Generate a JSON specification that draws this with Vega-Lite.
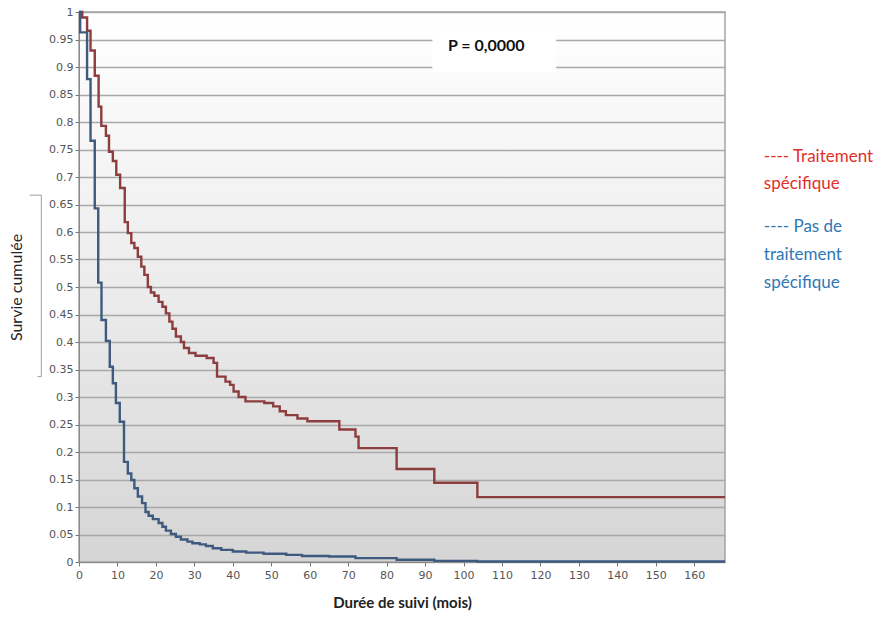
{
  "$schema": "https://vega.github.io/schema/vega-lite/v6.json",
  "width": 646,
  "height": 550,
  "autosize": {"type": "none"},
  "padding": {"left": 79, "top": 12, "right": 157, "bottom": 57},
  "background": "white",
  "config": {
    "view": {
      "stroke": "#a4a4a4",
      "strokeWidth": 1.5,
      "fill": {"gradient": "linear", "x1": 0, "y1": 0, "x2": 0, "y2": 1,
        "stops": [{"offset": 0, "color": "#ffffff"}, {"offset": 0.5, "color": "#ececec"}, {"offset": 1, "color": "#d5d5d5"}]}
    },
    "font": "DejaVu Sans",
    "axisX": {"tickCount": 16, "grid": false},
    "axisY": {"tickCount": 20, "grid": true, "gridColor": "#a9a9a9", "gridWidth": 1.5}
  },
  "datasets": {
    "km": [
      {"temps": 0, "survie": 1, "groupe": "Traitement spécifique"},
      {"temps": 0.85, "survie": 0.99, "groupe": "Traitement spécifique"},
      {"temps": 2.1, "survie": 0.966, "groupe": "Traitement spécifique"},
      {"temps": 3.0, "survie": 0.93, "groupe": "Traitement spécifique"},
      {"temps": 4.1, "survie": 0.884, "groupe": "Traitement spécifique"},
      {"temps": 5.1, "survie": 0.828, "groupe": "Traitement spécifique"},
      {"temps": 5.8, "survie": 0.793, "groupe": "Traitement spécifique"},
      {"temps": 7.0, "survie": 0.775, "groupe": "Traitement spécifique"},
      {"temps": 7.8, "survie": 0.746, "groupe": "Traitement spécifique"},
      {"temps": 8.8, "survie": 0.729, "groupe": "Traitement spécifique"},
      {"temps": 9.7, "survie": 0.704, "groupe": "Traitement spécifique"},
      {"temps": 10.7, "survie": 0.68, "groupe": "Traitement spécifique"},
      {"temps": 11.9, "survie": 0.618, "groupe": "Traitement spécifique"},
      {"temps": 12.7, "survie": 0.598, "groupe": "Traitement spécifique"},
      {"temps": 13.6, "survie": 0.58, "groupe": "Traitement spécifique"},
      {"temps": 14.4, "survie": 0.571, "groupe": "Traitement spécifique"},
      {"temps": 15.3, "survie": 0.555, "groupe": "Traitement spécifique"},
      {"temps": 16.2, "survie": 0.537, "groupe": "Traitement spécifique"},
      {"temps": 17.0, "survie": 0.522, "groupe": "Traitement spécifique"},
      {"temps": 17.9, "survie": 0.5, "groupe": "Traitement spécifique"},
      {"temps": 18.7, "survie": 0.49, "groupe": "Traitement spécifique"},
      {"temps": 19.6, "survie": 0.484, "groupe": "Traitement spécifique"},
      {"temps": 20.7, "survie": 0.473, "groupe": "Traitement spécifique"},
      {"temps": 21.7, "survie": 0.464, "groupe": "Traitement spécifique"},
      {"temps": 22.6, "survie": 0.452, "groupe": "Traitement spécifique"},
      {"temps": 23.5, "survie": 0.437, "groupe": "Traitement spécifique"},
      {"temps": 24.3, "survie": 0.424, "groupe": "Traitement spécifique"},
      {"temps": 25.2, "survie": 0.41, "groupe": "Traitement spécifique"},
      {"temps": 26.5, "survie": 0.4, "groupe": "Traitement spécifique"},
      {"temps": 27.3, "survie": 0.389, "groupe": "Traitement spécifique"},
      {"temps": 28.6, "survie": 0.38, "groupe": "Traitement spécifique"},
      {"temps": 30.3, "survie": 0.375, "groupe": "Traitement spécifique"},
      {"temps": 33.2, "survie": 0.371, "groupe": "Traitement spécifique"},
      {"temps": 35.0, "survie": 0.362, "groupe": "Traitement spécifique"},
      {"temps": 35.9, "survie": 0.337, "groupe": "Traitement spécifique"},
      {"temps": 38.1, "survie": 0.328, "groupe": "Traitement spécifique"},
      {"temps": 39.3, "survie": 0.322, "groupe": "Traitement spécifique"},
      {"temps": 40.2, "survie": 0.31, "groupe": "Traitement spécifique"},
      {"temps": 41.5, "survie": 0.3, "groupe": "Traitement spécifique"},
      {"temps": 43.3, "survie": 0.292, "groupe": "Traitement spécifique"},
      {"temps": 48.2, "survie": 0.289, "groupe": "Traitement spécifique"},
      {"temps": 50.5, "survie": 0.283, "groupe": "Traitement spécifique"},
      {"temps": 52.2, "survie": 0.274, "groupe": "Traitement spécifique"},
      {"temps": 53.8, "survie": 0.267, "groupe": "Traitement spécifique"},
      {"temps": 56.8, "survie": 0.261, "groupe": "Traitement spécifique"},
      {"temps": 59.4, "survie": 0.256, "groupe": "Traitement spécifique"},
      {"temps": 67.7, "survie": 0.241, "groupe": "Traitement spécifique"},
      {"temps": 71.9, "survie": 0.228, "groupe": "Traitement spécifique"},
      {"temps": 72.7, "survie": 0.207, "groupe": "Traitement spécifique"},
      {"temps": 82.6, "survie": 0.169, "groupe": "Traitement spécifique"},
      {"temps": 92.4, "survie": 0.144, "groupe": "Traitement spécifique"},
      {"temps": 103.6, "survie": 0.118, "groupe": "Traitement spécifique"},
      {"temps": 168, "survie": 0.118, "groupe": "Traitement spécifique"},
      {"temps": 0, "survie": 1, "groupe": "Pas de traitement spécifique"},
      {"temps": 0.3, "survie": 0.963, "groupe": "Pas de traitement spécifique"},
      {"temps": 2.1, "survie": 0.878, "groupe": "Pas de traitement spécifique"},
      {"temps": 3.0, "survie": 0.766, "groupe": "Pas de traitement spécifique"},
      {"temps": 4.1, "survie": 0.643, "groupe": "Pas de traitement spécifique"},
      {"temps": 5.0, "survie": 0.508, "groupe": "Pas de traitement spécifique"},
      {"temps": 5.85, "survie": 0.44, "groupe": "Pas de traitement spécifique"},
      {"temps": 7.0, "survie": 0.402, "groupe": "Pas de traitement spécifique"},
      {"temps": 8.0, "survie": 0.355, "groupe": "Pas de traitement spécifique"},
      {"temps": 8.8, "survie": 0.325, "groupe": "Pas de traitement spécifique"},
      {"temps": 9.6, "survie": 0.289, "groupe": "Pas de traitement spécifique"},
      {"temps": 10.6, "survie": 0.255, "groupe": "Pas de traitement spécifique"},
      {"temps": 11.7, "survie": 0.182, "groupe": "Pas de traitement spécifique"},
      {"temps": 12.7, "survie": 0.161, "groupe": "Pas de traitement spécifique"},
      {"temps": 13.6, "survie": 0.149, "groupe": "Pas de traitement spécifique"},
      {"temps": 14.4, "survie": 0.134, "groupe": "Pas de traitement spécifique"},
      {"temps": 15.3, "survie": 0.119, "groupe": "Pas de traitement spécifique"},
      {"temps": 16.4, "survie": 0.107, "groupe": "Pas de traitement spécifique"},
      {"temps": 17.3, "survie": 0.091, "groupe": "Pas de traitement spécifique"},
      {"temps": 18.1, "survie": 0.084, "groupe": "Pas de traitement spécifique"},
      {"temps": 19.2, "survie": 0.078, "groupe": "Pas de traitement spécifique"},
      {"temps": 20.7, "survie": 0.071, "groupe": "Pas de traitement spécifique"},
      {"temps": 21.7, "survie": 0.064, "groupe": "Pas de traitement spécifique"},
      {"temps": 22.6, "survie": 0.057, "groupe": "Pas de traitement spécifique"},
      {"temps": 23.9, "survie": 0.051, "groupe": "Pas de traitement spécifique"},
      {"temps": 25.2, "survie": 0.046, "groupe": "Pas de traitement spécifique"},
      {"temps": 26.5, "survie": 0.041, "groupe": "Pas de traitement spécifique"},
      {"temps": 28.2, "survie": 0.037, "groupe": "Pas de traitement spécifique"},
      {"temps": 29.5, "survie": 0.034, "groupe": "Pas de traitement spécifique"},
      {"temps": 31.4, "survie": 0.032, "groupe": "Pas de traitement spécifique"},
      {"temps": 33.0, "survie": 0.029, "groupe": "Pas de traitement spécifique"},
      {"temps": 34.8, "survie": 0.025, "groupe": "Pas de traitement spécifique"},
      {"temps": 37.0, "survie": 0.022, "groupe": "Pas de traitement spécifique"},
      {"temps": 40.0, "survie": 0.019, "groupe": "Pas de traitement spécifique"},
      {"temps": 43.5, "survie": 0.017, "groupe": "Pas de traitement spécifique"},
      {"temps": 48.0, "survie": 0.015, "groupe": "Pas de traitement spécifique"},
      {"temps": 53.9, "survie": 0.013, "groupe": "Pas de traitement spécifique"},
      {"temps": 58.0, "survie": 0.011, "groupe": "Pas de traitement spécifique"},
      {"temps": 65.0, "survie": 0.01, "groupe": "Pas de traitement spécifique"},
      {"temps": 71.9, "survie": 0.007, "groupe": "Pas de traitement spécifique"},
      {"temps": 82.6, "survie": 0.004, "groupe": "Pas de traitement spécifique"},
      {"temps": 92.4, "survie": 0.002, "groupe": "Pas de traitement spécifique"},
      {"temps": 103.6, "survie": 0.001, "groupe": "Pas de traitement spécifique"},
      {"temps": 168, "survie": 0.001, "groupe": "Pas de traitement spécifique"}
    ]
  },
  "layer": [
    {
      "data": {"name": "km"},
      "mark": {"type": "line", "interpolate": "step-after", "strokeWidth": 2.4},
      "encoding": {
        "x": {
          "field": "temps", "type": "quantitative",
          "scale": {"domain": [0, 168], "nice": false, "zero": false},
          "axis": {
            "grid": false,
            "title": "Durée de suivi (mois)",
            "titleFont": "Lato", "titleFontSize": 15, "titleFontWeight": "bold", "titleColor": "#222222",
            "titlePadding": 15,
            "labelFont": "DejaVu Sans", "labelFontSize": 11, "labelColor": "#555555",
            "labelPadding": 3,
            "tickColor": "#777777", "tickSize": 4, "domainColor": "#8a8a8a", "labelFlush": false, "labelOverlap": false
          }
        },
        "y": {
          "field": "survie", "type": "quantitative",
          "scale": {"domain": [0, 1], "nice": false},
          "axis": {
            "format": ".2~f",
            "title": "Survie cumulée",
            "titleFont": "Lato", "titleFontSize": 16, "titleFontWeight": "normal", "titleColor": "#222222",
            "titlePadding": 24,
            "labelFont": "DejaVu Sans", "labelFontSize": 11, "labelColor": "#555555",
            "labelPadding": 2,
            "tickColor": "#777777", "tickSize": 4, "domainColor": "#8a8a8a", "labelOverlap": false, "labelFlush": false
          }
        },
        "color": {
          "field": "groupe", "type": "nominal",
          "scale": {"domain": ["Traitement spécifique", "Pas de traitement spécifique"], "range": ["#8c3d3d", "#3e5a7e"]},
          "legend": null
        }
      }
    },
    {
      "data": {"values": [{}]},
      "mark": {"type": "rect", "color": "white"},
      "encoding": {
        "x": {"datum": 91.9, "type": "quantitative"},
        "x2": {"datum": 124.1},
        "y": {"datum": 0.971, "type": "quantitative"},
        "y2": {"datum": 0.891}
      }
    },
    {
      "data": {"values": [{}]},
      "mark": {"type": "text", "font": "Lato", "fontSize": 16, "fontWeight": "bold", "color": "#111111", "align": "center", "baseline": "middle"},
      "encoding": {
        "x": {"datum": 105.9, "type": "quantitative"},
        "y": {"datum": 0.938, "type": "quantitative"},
        "text": {"value": "P = 0,0000"}
      }
    },
    {
      "data": {"values": [{}]},
      "mark": {"type": "text", "font": "Lato", "fontSize": 17, "color": "#e0302a", "align": "left", "baseline": "middle", "lineBreak": "\n", "lineHeight": 27},
      "encoding": {
        "x": {"datum": 178.1, "type": "quantitative"},
        "y": {"datum": 0.7364, "type": "quantitative"},
        "text": {"value": "---- Traitement\nspécifique"}
      }
    },
    {
      "data": {"values": [{}]},
      "mark": {"type": "text", "font": "Lato", "fontSize": 17, "color": "#2f77b5", "align": "left", "baseline": "middle", "lineBreak": "\n", "lineHeight": 28},
      "encoding": {
        "x": {"datum": 178.1, "type": "quantitative"},
        "y": {"datum": 0.609, "type": "quantitative"},
        "text": {"value": "---- Pas de\ntraitement\nspécifique"}
      }
    },
    {
      "data": {"values": [{}]},
      "mark": {"type": "rule", "color": "#9aa0a8", "strokeWidth": 1},
      "encoding": {
        "x": {"datum": -9.8, "type": "quantitative"},
        "y": {"datum": 0.667, "type": "quantitative"},
        "y2": {"datum": 0.337}
      }
    },
    {
      "data": {"values": [{}]},
      "mark": {"type": "rule", "color": "#9aa0a8", "strokeWidth": 1},
      "encoding": {
        "x": {"datum": -12.8, "type": "quantitative"},
        "x2": {"datum": -9.8},
        "y": {"datum": 0.667, "type": "quantitative"}
      }
    },
    {
      "data": {"values": [{}]},
      "mark": {"type": "rule", "color": "#9aa0a8", "strokeWidth": 1},
      "encoding": {
        "x": {"datum": -10.8, "type": "quantitative"},
        "x2": {"datum": -9.8},
        "y": {"datum": 0.337, "type": "quantitative"}
      }
    }
  ]
}
